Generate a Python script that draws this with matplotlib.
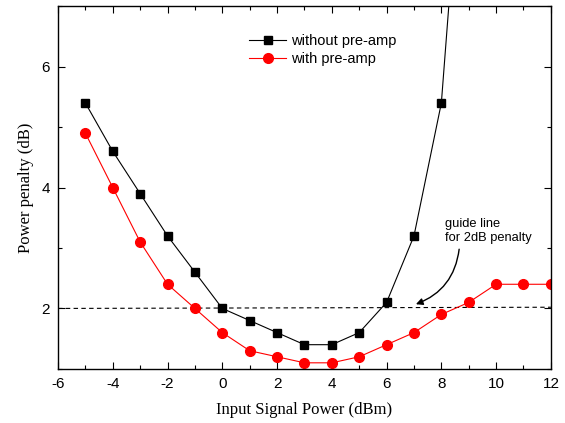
import matplotlib
matplotlib.use("Agg")
import matplotlib.pyplot as plt
from matplotlib.ticker import MultipleLocator

plt.rcParams["axes.unicode_minus"] = False

x_without = [-5, -4, -3, -2, -1, 0, 1, 2, 3, 4, 5, 6, 7, 8, 9]
y_without = [5.4, 4.6, 3.9, 3.2, 2.6, 2.0, 1.8, 1.6, 1.4, 1.4, 1.6, 2.1, 3.2, 5.4, 11.3]
x_with = [-5, -4, -3, -2, -1, 0, 1, 2, 3, 4, 5, 6, 7, 8, 9, 10, 11, 12]
y_with = [4.9, 4.0, 3.1, 2.4, 2.0, 1.6, 1.3, 1.2, 1.1, 1.1, 1.2, 1.4, 1.6, 1.9, 2.1, 2.4, 2.4, 2.4]
guide_x = [-6, 12]
guide_y = [2.0, 2.02]

fig = plt.figure(figsize=(5.65, 4.23), dpi=100)
ax = fig.add_axes([0.1027, 0.128, 0.8723, 0.857])

ax.plot(guide_x, guide_y, color="black", linestyle=(0, (4, 3)), linewidth=0.8)
ax.plot(x_without, y_without, color="black", marker="s", markersize=5.5,
        linewidth=0.8, label="without pre-amp", clip_on=True)
ax.plot(x_with, y_with, color="red", marker="o", markersize=7,
        linewidth=0.8, label="with pre-amp", clip_on=True)

ax.set_xlim(-6, 12)
ax.set_ylim(1, 7)
ax.xaxis.set_major_locator(MultipleLocator(2))
ax.xaxis.set_minor_locator(MultipleLocator(1))
ax.yaxis.set_major_locator(MultipleLocator(2))
ax.yaxis.set_minor_locator(MultipleLocator(1))
ax.tick_params(which="both", direction="in", top=True, right=True,
               labelfontfamily="Liberation Sans", labelsize=11, width=0.8)
ax.tick_params(which="major", length=5, pad=6)
ax.tick_params(which="minor", length=3)
for sp in ax.spines.values():
    sp.set_linewidth(1.0)

ax.set_xlabel("Input Signal Power (dBm)", family="Liberation Serif", fontsize=12, labelpad=8)
ax.set_ylabel("Power penalty (dB)", family="Liberation Serif", fontsize=12, labelpad=5)

ax.text(8.12, 3.28, "guide line\nfor 2dB penalty", fontsize=9.3,
        family="Liberation Sans", va="center", ha="left", linespacing=1.3)
ax.annotate("", xy=(7.07, 2.07), xytext=(8.65, 2.98),
            arrowprops=dict(arrowstyle="-|>", color="black", lw=1.0,
                            connectionstyle="arc3,rad=-0.3",
                            shrinkA=0, shrinkB=0, mutation_scale=10))

leg = ax.legend(loc="upper left", bbox_to_anchor=(0.36, 0.96), frameon=False,
                prop={"family": "Liberation Sans", "size": 10.5},
                handlelength=2.6, handletextpad=0.3, labelspacing=0.3)

fig.savefig("out.png", dpi=100)
